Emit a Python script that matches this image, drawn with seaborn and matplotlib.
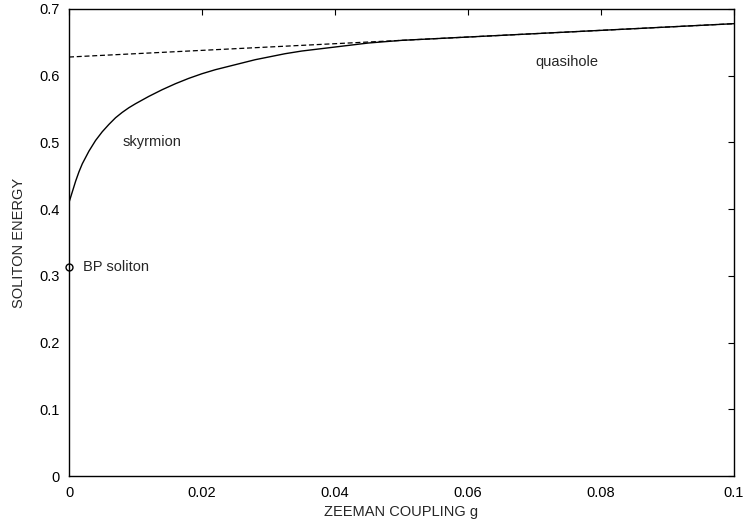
import matplotlib
matplotlib.use("Agg")
import matplotlib.pyplot as plt
import seaborn as sns

# skyrmion branch (solid curve)
g_sky = [0, 0.0005, 0.001, 0.0015, 0.002, 0.003, 0.004, 0.005, 0.006, 0.007,
         0.008, 0.009, 0.01, 0.012, 0.014, 0.016, 0.018, 0.02, 0.022, 0.024,
         0.026, 0.028, 0.03, 0.0325, 0.035, 0.0375, 0.04, 0.0425, 0.045,
         0.0475, 0.05, 0.06, 0.07, 0.08, 0.09, 0.1]
E_sky = [0.410, 0.426, 0.442, 0.456, 0.468, 0.487, 0.503, 0.516, 0.527, 0.537,
         0.545, 0.552, 0.558, 0.569, 0.579, 0.588, 0.596, 0.603, 0.609, 0.614,
         0.619, 0.624, 0.628, 0.633, 0.637, 0.640, 0.643, 0.646, 0.649,
         0.651, 0.653, 0.658, 0.663, 0.668, 0.673, 0.678]
# quasihole branch (dashed line)
g_qh = [0, 0.1]
E_qh = [0.628, 0.678]
# BP soliton point
g_bp = [0]
E_bp = [0.314]

sns.set_style("white")
plt.rcParams['font.family'] = ['Liberation Sans', 'DejaVu Sans']

FS = 10.5
fig = plt.figure(figsize=(7.45, 5.27), dpi=100)
ax = fig.add_axes([69/745, 51/527, 665/745, 467/527])

sns.lineplot(x=g_sky, y=E_sky, ax=ax, color='black', lw=1.0)
sns.lineplot(x=g_qh, y=E_qh, ax=ax, color='black', lw=0.9, linestyle=(0, (4, 2.2)))
ax.plot(g_bp, E_bp, 'o', mfc='none', mec='black', ms=5, mew=1.0, clip_on=False)

ax.text(0.0021, 0.314, 'BP soliton', fontsize=FS, va='center', ha='left')
ax.text(0.008, 0.5, 'skyrmion', fontsize=FS, va='center', ha='left')
ax.text(0.0702, 0.621, 'quasihole', fontsize=FS, va='center', ha='left')

ax.set_xlim(0, 0.1)
ax.set_ylim(0, 0.7)
ax.set_xticks([0, 0.02, 0.04, 0.06, 0.08, 0.1])
ax.set_xticklabels(['0', '0.02', '0.04', '0.06', '0.08', '0.1'])
ax.set_yticks([0, 0.1, 0.2, 0.3, 0.4, 0.5, 0.6, 0.7])
ax.set_yticklabels(['0', '0.1', '0.2', '0.3', '0.4', '0.5', '0.6', '0.7'])
ax.tick_params(direction='in', length=4.5, width=0.8, top=True, right=True,
               labelsize=FS, colors='black', pad=7)
for s in ax.spines.values():
    s.set_color('black')
    s.set_linewidth(1.0)
ax.set_xlabel('ZEEMAN COUPLING g', fontsize=FS)
ax.set_ylabel('SOLITON ENERGY', fontsize=FS)
ax.xaxis.set_label_coords(0.5, -0.062)
ax.yaxis.set_label_coords(-0.0645, 0.5)

fig.savefig('out.png', dpi=100)
